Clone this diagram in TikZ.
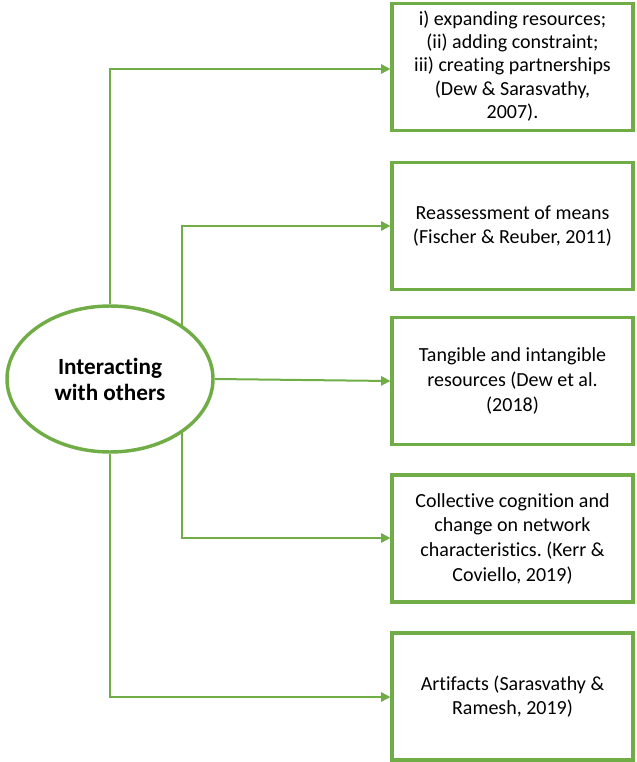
\documentclass[tikz,border=0pt]{standalone}
\usepackage{fontspec}
\setmainfont[Ligatures={NoCommon}]{Carlito}
\usetikzlibrary{arrows.meta,shapes.geometric,calc}
\definecolor{grn}{HTML}{70AD47}
\frenchspacing
\tikzset{
  box/.style={draw=grn, line width=2.4pt, minimum width=241*0.75pt, minimum height=127*0.75pt, align=center, inner sep=0pt, font=\fontsize{15pt}{18.5pt}\selectfont},
  conn/.style={draw=grn, line width=1.5pt, -{Triangle[length=7pt,width=7pt]}}
}
\begin{document}
\begin{tikzpicture}[x=0.75pt,y=-0.75pt]
\useasboundingbox (0,0) rectangle (636,762);
\node[box] (b1) at (512.5,67) {};
\node[font=\fontsize{15pt}{17.5pt}\selectfont, align=center, inner sep=0pt] (t1) at (512.5,66) {i) expanding resources;\\(ii) adding constraint;\\iii) creating partnerships\\(Dew \& Sarasvathy,\\2007).};
\node[box] (b2) at (512.5,226) {Reassessment of means\\(Fischer \& Reuber, 2011)};
\node[box] (b3) at (512.5,381) {Tangible and intangible\\resources (Dew et al.\\(2018)};
\node[box] (b4) at (512.5,538.5) {Collective cognition and\\change on network\\characteristics. (Kerr \&\\Coviello, 2019)};
\node[box] (b5) at (512.5,696.5) {Artifacts (Sarasvathy \&\\Ramesh, 2019)};
\node[ellipse, draw=grn, line width=2.6pt, minimum width=206*0.75pt, minimum height=146*0.75pt, inner sep=0pt, align=center, font=\fontsize{17.4pt}{19.5pt}\selectfont\bfseries] (e) at (110,379) {Interacting\\with others};
\coordinate (c1) at (109,69);
\coordinate (c2) at (182,226);
\coordinate (c4) at (182,538);
\coordinate (c5) at (109,697);
\coordinate (e2) at ($(e.center)+(72,-52)$);
\coordinate (e4) at ($(e.center)+(72,52)$);
\draw[conn] (e.north) |- (b1.west |- c1);
\draw[conn] (e2) |- (b2.west |- c2);
\draw[conn] (e.east) -- (b3.west);
\draw[conn] (e4) |- (b4.west |- c4);
\draw[conn] (e.south) |- (b5.west |- c5);
\end{tikzpicture}
\end{document}
